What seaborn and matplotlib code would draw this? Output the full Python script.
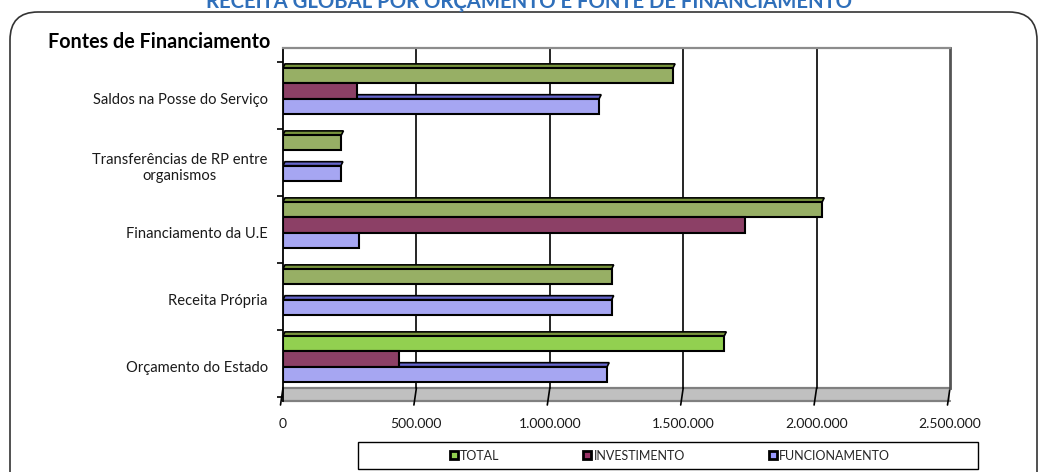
import numpy as np
import pandas as pd
import seaborn as sns
import matplotlib
matplotlib.use("Agg")
import matplotlib.pyplot as plt
import matplotlib.patches as mpatches
import matplotlib.transforms as mtransforms
from matplotlib.ticker import FuncFormatter, FixedLocator

# --- data -------------------------------------------------------------
fontes = [
    "Saldos na Posse do Serviço",
    "Transferências de RP entre\norganismos",
    "Financiamento da U.E",
    "Receita Própria",
    "Orçamento do Estado",
]
total = [1462000, 219000, 2021000, 1232000, 1654000]
investimento = [277000, 0, 1733000, 0, 435000]
funcionamento = [1185000, 217000, 284000, 1232000, 1215000]
series = ["TOTAL", "INVESTIMENTO", "FUNCIONAMENTO"]
x_ticks = [0, 500000, 1000000, 1500000, 2000000, 2500000]

df = pd.DataFrame({
    "fonte": fontes * 3,
    "valor": total + investimento + funcionamento,
    "serie": [s for s in series for _ in fontes],
})

# --- style ------------------------------------------------------------
sns.set_theme(style="white")
plt.rcParams["font.family"] = ["Lato", "DejaVu Sans"]

face = {"TOTAL": "#9BBB59", "INVESTIMENTO": "#993366", "FUNCIONAMENTO": "#9999FF"}
top_face = {"TOTAL": "#77933C", "INVESTIMENTO": "#6B2449", "FUNCIONAMENTO": "#6666CC"}
highlight_green = "#92D050"

W, H = 1040, 472
fig = plt.figure(figsize=(W / 100, H / 100), dpi=100)
ax = fig.add_axes([283 / W, 1 - 401 / H, 667 / W, 353 / H])

sns.barplot(data=df, y="fonte", x="valor", hue="serie", hue_order=series,
            order=fontes, orient="h", palette=face, width=0.69,
            edgecolor="black", linewidth=1.5, legend=False, ax=ax, zorder=3)

ax.set_xlim(0, x_ticks[-1])
ax.set_ylim(4.56, -0.709)
ax.set_xlabel("")
ax.set_ylabel("")

px_x = x_ticks[-1] / 667.0      # data units per pixel along x
px_y = 1 / 67.0                 # category units per pixel along y
shift = 4.5 * px_y              # bars sit slightly forward of the category centre
strip_h = 4 * px_y              # depth face on top of each bar
strip_dx = 2 * px_x

for serie, cont in zip(series, ax.containers):
    for i, bar in enumerate(cont.patches):
        bar.set_y(bar.get_y() - shift)
        w = bar.get_width()
        if w <= 0:
            bar.set_visible(False)
            continue
        if serie == "TOTAL" and i == len(fontes) - 1:
            bar.set_facecolor(highlight_green)
        y0 = bar.get_y()
        x0 = bar.get_x()
        poly = mpatches.Polygon(
            [(x0, y0), (x0 + w, y0), (x0 + w + strip_dx, y0 - strip_h),
             (x0 + strip_dx, y0 - strip_h)],
            closed=True, facecolor=top_face[serie], edgecolor="black",
            linewidth=1.2, zorder=2.5)
        ax.add_patch(poly)

# floor of the plot area
floor_frac = 13 / 353
ax.add_patch(mpatches.Rectangle((0, 0), 1, floor_frac, transform=ax.transAxes,
                                facecolor="#C0C0C0", edgecolor="none", zorder=1))
ax.plot([0, 1], [floor_frac, floor_frac], transform=ax.transAxes,
        color="#808080", lw=1.6, zorder=1.5, clip_on=False)
ax.plot([0, 1], [0, 0], transform=ax.transAxes,
        color="#808080", lw=1.6, zorder=1.5, clip_on=False)

# vertical gridlines with slanted feet through the floor
xt = ax.get_xaxis_transform()
for v in x_ticks:
    if 0 < v < x_ticks[-1]:
        ax.plot([v, v], [floor_frac, 1], transform=xt, color="black",
                lw=1.2, zorder=2)
    ax.plot([v, v - 2.5 * px_x], [floor_frac, -4 / 353], transform=xt,
            color="black", lw=1.2, zorder=2, clip_on=False)

# spines
ax.spines["bottom"].set_visible(False)
ax.spines["left"].set_color("black")
ax.spines["left"].set_linewidth(1.3)
ax.spines["top"].set_color("#8C8C8C")
ax.spines["top"].set_linewidth(1.6)
ax.spines["right"].set_color("#555555")
ax.spines["right"].set_linewidth(2.0)
ax.spines["right"].set_bounds(4.366, -0.709)

# ticks
ax.xaxis.set_major_locator(FixedLocator(x_ticks))
ax.xaxis.set_major_formatter(FuncFormatter(lambda v, _: f"{v:,.0f}".replace(",", ".")))
ax.tick_params(axis="x", length=0, pad=12, labelsize=10, labelcolor="#1a1a1a")
ax.yaxis.set_minor_locator(FixedLocator(np.arange(-0.5, len(fontes), 1.0)))
ax.tick_params(axis="y", which="major", length=0, pad=11, labelsize=10.6,
               labelcolor="#1a1a1a")
ax.tick_params(axis="y", which="minor", length=4, width=1.2, color="black",
               direction="out", left=True)
label_drop = mtransforms.ScaledTranslation(0, -3 / 100, fig.dpi_scale_trans)
for lab in ax.get_yticklabels():
    lab.set_multialignment("center")
    lab.set_transform(lab.get_transform() + label_drop)

# texts
fig.text(529 / W, 1 - 8 / H, "RECEITA GLOBAL POR ORÇAMENTO E FONTE DE FINANCIAMENTO",
         ha="center", va="baseline", fontsize=14.6, fontweight="bold", color="#2F6FBA")
fig.text(48 / W, 1 - 48 / H, "Fontes de Financiamento", ha="left", va="baseline",
         fontsize=14.2, fontweight="bold", color="black")

# rounded panel border
border = mpatches.FancyBboxPatch((10, -40), 1027, 460 + 40,
                                 boxstyle="round,pad=0,rounding_size=28",
                                 transform=mtransforms.IdentityTransform(),
                                 facecolor="none", edgecolor="#333333", lw=1.2)
fig.add_artist(border)

# legend with its own frame
handles = [mpatches.Patch(facecolor=(highlight_green if s == "TOTAL" else face[s]),
                          edgecolor="black", linewidth=2.0, label=s) for s in series]
fig.legend(handles=handles, loc="center", bbox_to_anchor=(670 / W, 1 - 455.5 / H),
           ncol=3, frameon=False, fontsize=9, handlelength=0.62, handleheight=0.62,
           handletextpad=0.2, columnspacing=6.7)
fig.add_artist(mpatches.Rectangle((358 / W, 1 - 469 / H), 620 / W, 27 / H,
                                  transform=fig.transFigure, facecolor="none",
                                  edgecolor="black", lw=1.0))

fig.savefig("out.png", dpi=100)
